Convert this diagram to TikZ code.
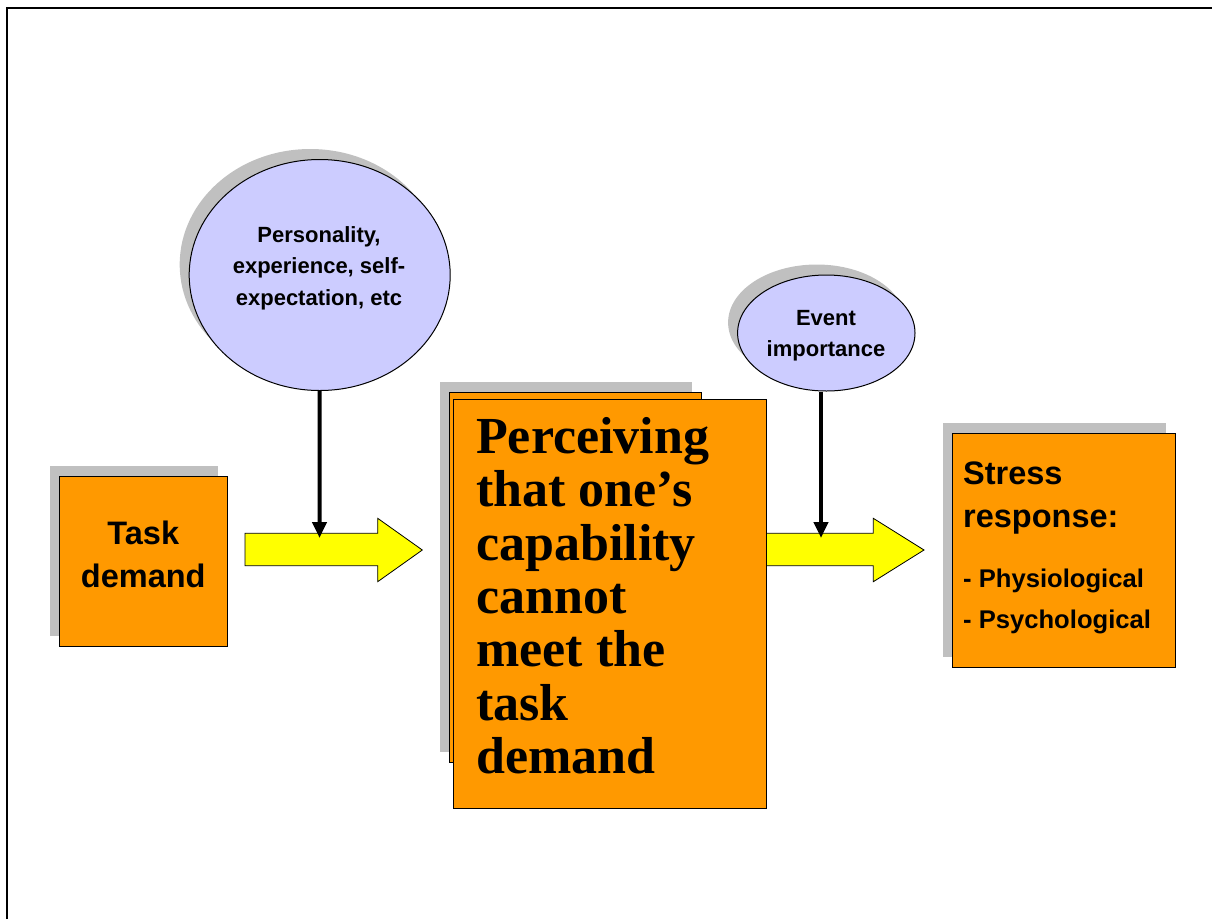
\documentclass[tikz,border=0pt]{standalone}
\usepackage{fontspec}
\setmainfont{Liberation Serif}
\newfontfamily\arialf{Liberation Sans}
\usetikzlibrary{shapes.geometric,shadows,arrows.meta}
\definecolor{orng}{HTML}{FF9900}
\definecolor{lav}{HTML}{CCCCFF}
\definecolor{shgray}{HTML}{C0C0C0}
\definecolor{yel}{HTML}{FFFF00}
\begin{document}
\begin{tikzpicture}[x=1pt,y=-1pt,
  shd/.style={general shadow={fill=shgray, shadow xshift=-9.5pt, shadow yshift=10.5pt}},
  obox/.style={rectangle, draw=black, line width=1pt, fill=orng, inner sep=0pt},
  oval/.style={ellipse, draw=black, line width=1pt, fill=lav, inner sep=0pt},
  yarrow/.style={draw=black, line width=0.8pt, fill=yel, line join=miter},
  blk/.style={line width=4pt, -{Triangle[width=14pt,length=16pt]}},
  ovaltext/.style={font=\arialf\bfseries\fontsize{22}{31.7}\selectfont, align=center, anchor=base, inner sep=0pt},
  bigsans/.style={font=\arialf\bfseries\fontsize{32.5}{43}\selectfont, inner sep=0pt},
  smallsans/.style={font=\arialf\bfseries\fontsize{25.6}{41}\selectfont, inner sep=0pt, align=left, anchor=base west},
  bigserif/.style={font=\bfseries\fontsize{52}{53.3}\selectfont, inner sep=0pt, align=left, anchor=base west}
]
\useasboundingbox (0,0) rectangle (1212,919);
% frame
\draw[line width=2pt] (7.3,919) -- (7.3,8) -- (1212,8);

% ovals
\node[oval, shd, minimum width=261pt, minimum height=231pt] (pers) at (319.7,275) {};
\node[ovaltext] (perstext) at (319,305.5) {Personality,\\experience, self-\\expectation, etc};
\node[oval, shd, minimum width=177.4pt, minimum height=116pt] (event) at (826.3,333) {};
\node[ovaltext] (eventtext) at (826,356.7) {Event\\importance};

% yellow block arrows
\draw[yarrow] (245,533.3) -- (377.7,533.3) -- (377.7,518.3) -- (422.3,550) -- (377.7,581.7) -- (377.7,565.7) -- (245,565.7) -- cycle;
\draw[yarrow] (765,533.3) -- (873.3,533.3) -- (873.3,518.3) -- (924,550) -- (873.3,581.7) -- (873.3,565.7) -- (765,565.7) -- cycle;

% connectors
\coordinate (a1top) at (319.5,538);
\coordinate (a2top) at (821,538);
\draw[blk] (pers.south) -- (a1top);
\draw[blk] (a2top |- event.south) -- (a2top);

% boxes
\node[obox, shd, minimum width=168pt, minimum height=170pt] (task) at (143,561) {};
\node[bigsans, align=center, anchor=base] (tasktext) at (143.3,587) {Task\\demand};

\node[obox, shd, minimum width=252pt, minimum height=370pt] (back) at (575,577) {};
\node[obox, minimum width=313pt, minimum height=409pt] (front) at (609.5,603.5) {};
\node[bigserif] (perctext) at (476,773.3) {Perceiving\\that one’s\\capability\\cannot\\meet the\\task\\demand};

\node[obox, shd, minimum width=223pt, minimum height=234pt] (stress) at (1063.5,550) {};
\node[bigsans, align=left, anchor=base west] (stresstext) at (963,527) {Stress\\response:};
\node[smallsans] (resptext) at (963,628) {- Physiological\\- Psychological};
\end{tikzpicture}
\end{document}
